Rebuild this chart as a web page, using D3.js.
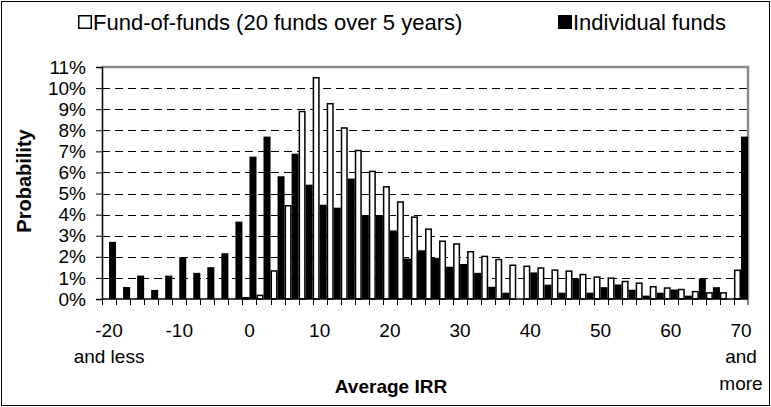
<!DOCTYPE html>
<html>
<head>
<meta charset="utf-8">
<script src="https://cdn.jsdelivr.net/npm/d3@7"></script>
<style>
  body { margin: 0; background: #fff; }
  text { font-family: "Liberation Sans", Arial, sans-serif; fill: #000; }
</style>
</head>
<body>
<svg id="chart"></svg>
<script>
// IRR buckets (-20 and less ... 70 and more), step 2
var categories = d3.range(-20, 71, 2)

// probability in %
var fundOfFunds = [0, 0, 0, 0, 0, 0, 0, 0, 0, 0,
  0.06, 0.17, 1.33, 4.42, 8.89, 10.49, 9.26, 8.11, 7.04, 6.05,
  5.32, 4.60, 3.88, 3.31, 2.74, 2.61, 2.24, 2.02, 1.87, 1.60,
  1.55, 1.47, 1.37, 1.32, 1.16, 1.04, 0.99, 0.83, 0.75, 0.58,
  0.52, 0.45, 0.35, 0.29, 0.29, 1.36]

var individual = [2.71, 0.57, 1.11, 0.43, 1.11, 1.97, 1.24, 1.51, 2.17, 3.67,
  6.75, 7.70, 5.82, 6.89, 5.42, 4.47, 4.33, 5.71, 3.98, 3.98,
  3.25, 1.92, 2.31, 1.95, 1.53, 1.66, 1.24, 0.58, 0.30, 0,
  1.26, 0.68, 0.30, 0.97, 0.30, 0.56, 0.69, 0.44, 0.16, 0.30,
  0.45, 0.16, 0.97, 0.56, 0, 7.70]

var seriesNames = ["Fund-of-funds (20 funds over 5 years)", "Individual funds"]
var yTicks = d3.range(0, 12, 1)
var xLabels = {"-20": ["-20", "and less"], "-10": ["-10"], "0": ["0"], "10": ["10"], "20": ["20"],
  "30": ["30"], "40": ["40"], "50": ["50"], "60": ["60"], "70": ["70", "and", "more"]}

var dimensions = {
  width: 771,
  height: 407,
  margin: { top: 67, bottom: 108, right: 23, left: 102 }
}

var svg = d3.select("#chart")
  .attr("width", dimensions.width)
  .attr("height", dimensions.height)

// outer chart border
svg.append("rect")
  .attr("x", 1.5).attr("y", 1.5)
  .attr("width", dimensions.width - 3)
  .attr("height", dimensions.height - 3)
  .attr("fill", "none")
  .attr("stroke", "black")

var plotLeft = dimensions.margin.left
var plotRight = dimensions.width - dimensions.margin.right
var plotBottom = dimensions.height - dimensions.margin.bottom
var plotTop = dimensions.margin.top

var x = d3.scaleBand()
  .domain(categories)
  .range([plotLeft, plotRight])
  .padding(0)

var xSub = d3.scaleBand()
  .domain([0, 1])
  .range([0, x.bandwidth()])
  .padding(0)

var y = d3.scaleLinear()
  .domain([0, 11])
  .range([plotBottom, plotTop])

// dashed gridlines
svg.append("g")
  .selectAll("line")
  .data(yTicks.filter(function(d) { return d > 0 && d < 11 }))
  .enter().append("line")
    .attr("x1", plotLeft).attr("x2", plotRight)
    .attr("y1", function(d) { return Math.round(y(d)) + 0.5 })
    .attr("y2", function(d) { return Math.round(y(d)) + 0.5 })
    .attr("stroke", "black")
    .attr("stroke-dasharray", "8,5")

// plot area frame (top + right in grey)
svg.append("path")
  .attr("d", "M" + plotLeft + "," + plotTop + "H" + plotRight + "V" + plotBottom)
  .attr("fill", "none")
  .attr("stroke", "#8c8c8c")
  .attr("stroke-width", 2.5)

// bars
var groups = svg.append("g")
  .selectAll("g")
  .data(categories)
  .enter().append("g")
    .attr("transform", function(d) { return "translate(" + x(d) + ",0)" })

groups.append("rect")
  .attr("x", xSub(1))
  .attr("y", function(d, i) { return y(individual[i]) })
  .attr("width", xSub.bandwidth())
  .attr("height", function(d, i) { return plotBottom - y(individual[i]) })
  .attr("fill", "black")

groups.append("rect")
  .attr("x", function() { return xSub(0) + 0.75 })
  .attr("y", function(d, i) { return y(fundOfFunds[i]) })
  .attr("width", xSub.bandwidth() - 1.5)
  .attr("height", function(d, i) { return plotBottom - y(fundOfFunds[i]) })
  .attr("fill", "white")
  .attr("stroke", "black")
  .attr("stroke-width", 1.5)

// y axis
var yAxis = svg.append("g")
  .attr("transform", "translate(" + plotLeft + ",0)")
  .call(d3.axisLeft(y).tickValues(yTicks).tickSize(6).tickPadding(10)
    .tickFormat(function(d) { return d + "%" }))
yAxis.select(".domain").attr("stroke", "black").attr("stroke-width", 1.5)
yAxis.selectAll("text").style("font-size", "19px").attr("font-family", null)

// x axis: minor ticks at every bucket boundary
var xAxis = svg.append("g")
  .attr("transform", "translate(0," + plotBottom + ")")
xAxis.append("line")
  .attr("x1", plotLeft).attr("x2", plotRight)
  .attr("stroke", "black").attr("stroke-width", 1.5)
xAxis.selectAll(".tick")
  .data(categories.concat(["end"]))
  .enter().append("line")
    .attr("class", "tick")
    .attr("x1", function(d) { return d === "end" ? plotRight : Math.round(x(d)) + 0.5 })
    .attr("x2", function(d) { return d === "end" ? plotRight : Math.round(x(d)) + 0.5 })
    .attr("y1", 0).attr("y2", 6)
    .attr("stroke", "black")

var labelled = categories.filter(function(d) { return xLabels[d] })
var xText = xAxis.selectAll(".lbl")
  .data(labelled)
  .enter().append("text")
    .attr("class", "lbl")
    .attr("text-anchor", "middle")
    .style("font-size", "19px")
    .attr("transform", function(d) { return "translate(" + (x(d) + x.bandwidth() / 2) + ",37.5)" })
xText.selectAll("tspan")
  .data(function(d) { return xLabels[d] })
  .enter().append("tspan")
    .attr("x", 0)
    .attr("y", function(d, i) { return i * 26.5 })
    .text(function(d) { return d })

// axis titles
svg.append("text")
  .text("Average IRR")
  .attr("text-anchor", "middle")
  .attr("x", 391).attr("y", 393)
  .style("font-size", "19px").style("font-weight", "bold")

svg.append("text")
  .text("Probability")
  .attr("text-anchor", "middle")
  .attr("transform", "translate(31,181) rotate(-90)")
  .style("font-size", "20px").style("font-weight", "bold")

// legend
var legend = svg.append("g")
var legendPos = [78, 558]
seriesNames.forEach(function(name, i) {
  var g = legend.append("g").attr("transform", "translate(" + legendPos[i] + ",15)")
  g.append("rect")
    .attr("x", 0.75).attr("y", 0.75)
    .attr("width", 12.5).attr("height", 12.5)
    .attr("fill", i === 0 ? "white" : "black")
    .attr("stroke", "black").attr("stroke-width", 1.5)
  g.append("text")
    .text(name)
    .attr("x", 15).attr("y", 15)
    .style("font-size", "22px")
})
</script>
</body>
</html>
